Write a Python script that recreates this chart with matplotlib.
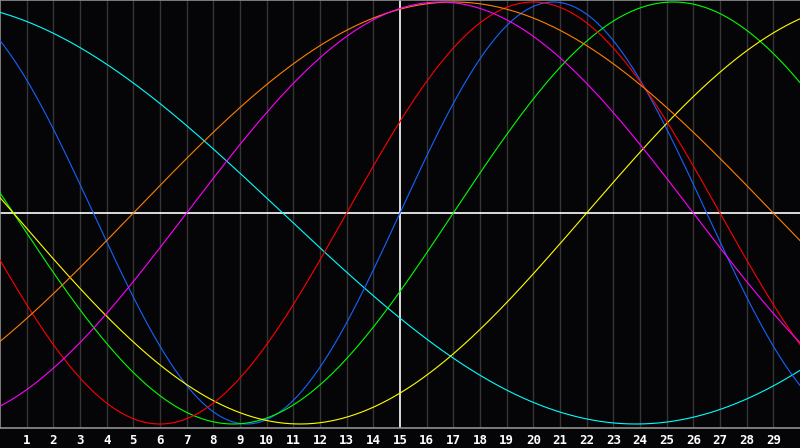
import numpy as np
import matplotlib
matplotlib.use("Agg")
import matplotlib.pyplot as plt

# biorhythm cycles: period (days), day of upward zero crossing, colour
periods = [53, 23, 33, 43, 28, 48, 38]
rise_day = [-15.9, 15.0, 17.0, 22.0, 13.0, 5.0, 7.0]
colors = ["#00ffff", "#1464ff", "#00ff00", "#ffff00", "#ff0000", "#ff8000", "#ff00ff"]

days = list(range(1, 30))
today = 15

fig = plt.figure(figsize=(8, 4.48), dpi=100)
fig.patch.set_facecolor("#050508")
ax = fig.add_axes([0, 20 / 448, 1, 428 / 448])
ax.set_facecolor("#050508")

for d in days:
    if d != today:
        ax.axvline(d, color="#353535", lw=1.0, zorder=1)

t = np.linspace(0, 30, 1200)
for p, r, c in zip(periods, rise_day, colors):
    ax.plot(t, np.sin(2 * np.pi * (t - r) / p), color=c, lw=0.8, zorder=3)

ax.axhline(0, color="white", lw=1.2, zorder=2)
ax.axvline(today, color="white", lw=1.2, zorder=2)

ax.set_xlim(0, 30)
ax.set_ylim(-215 / 211, 213 / 211)
ax.set_xticks(days)
ax.set_xticklabels([str(d) for d in days], color="white", fontsize=9,
                   fontweight="bold", family="DejaVu Sans Mono")
ax.tick_params(axis="x", length=0, pad=4)
ax.set_yticks([])
for side in ["top", "left", "bottom"]:
    ax.spines[side].set_color("#909090")
    ax.spines[side].set_linewidth(1.2)
ax.spines["right"].set_visible(False)

fig.savefig("out.png", dpi=100, facecolor=fig.get_facecolor())
